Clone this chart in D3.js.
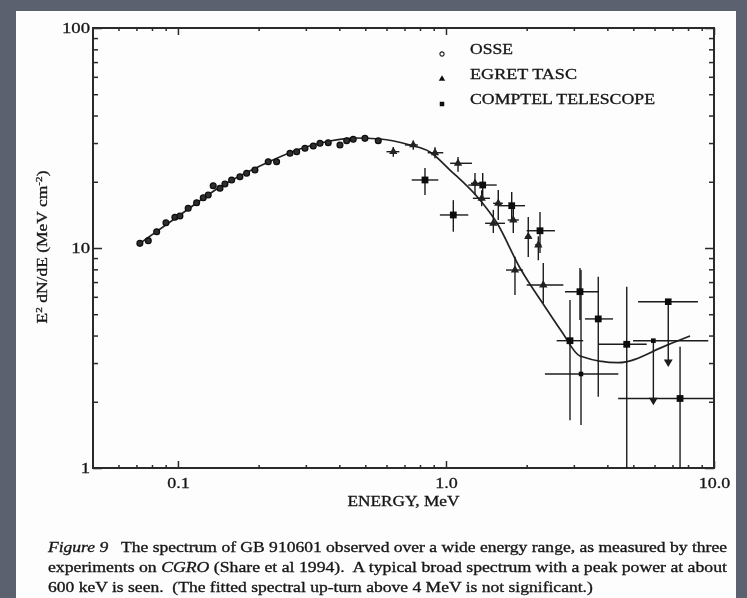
<!DOCTYPE html>
<html>
<head>
<meta charset="utf-8">
<script src="https://cdn.jsdelivr.net/npm/d3@7"></script>
<style>
body { margin: 0; background: #5c6170; }
svg { display: block; }
text { font-family: "Liberation Serif", "Times New Roman", serif; fill: #151515; stroke: #151515; stroke-width: 0.3; }
</style>
</head>
<body>
<svg id="chart" width="747" height="598"></svg>
<script>
// OSSE (open circles), energy in MeV, E^2 dN/dE in MeV cm^-2
let osseE = [0.0721, 0.0775, 0.0833, 0.0902, 0.0974, 0.1017, 0.1092, 0.1174, 0.1243, 0.1297,
    0.1354, 0.1435, 0.1497, 0.1586, 0.1703, 0.1804, 0.1937, 0.2172, 0.2334, 0.2618,
    0.2773, 0.2978, 0.3198, 0.3388, 0.3637, 0.4022, 0.4260, 0.4508, 0.4985, 0.5590];
let osseF = [10.5, 10.8, 11.86, 13.03, 13.79, 13.98, 15.15, 16.07, 16.93, 17.42,
    19.19, 18.68, 19.54, 20.38, 21.09, 21.86, 22.63, 24.68, 24.68, 26.94,
    27.40, 28.39, 29.08, 29.92, 30.10, 29.39, 30.73, 31.19, 31.51, 30.73];

// EGRET TASC (triangles)
let tascE = [0.636, 0.755, 0.910, 1.109, 1.283, 1.359, 1.502, 1.567, 1.783, 1.809, 2.028, 2.211, 2.307];
let tascF = [27.4, 29.4, 27.1, 24.27, 19.68, 16.82, 12.95, 15.97, 13.40, 7.94, 11.26, 10.32, 6.79];
let tascELo = [0.60, 0.703, 0.855, 1.036, 1.24, 1.26, 1.40, 1.50, 1.70, 1.675, 1.98, 2.15, 2.0];
let tascEHi = [0.67, 0.786, 0.977, 1.25, 1.34, 1.46, 1.66, 1.63, 1.87, 1.938, 2.08, 2.27, 2.74];
let tascFLo = [26.0, 28.0, 25.6, 22.2, 17.4, 15.5, 11.7, 13.4, 11.7, 6.11, 9.10, 8.8, 5.62];
let tascFHi = [28.8, 30.8, 28.7, 25.9, 21.9, 18.3, 14.9, 18.35, 15.4, 9.13, 13.83, 11.3, 8.55];

// COMPTEL TELESCOPE (filled squares)
let compE = [0.835, 1.065, 1.371, 1.759, 2.243, 3.162, 3.70, 2.902, 3.19, 4.725, 7.47];
let compF = [20.38, 14.13, 19.33, 15.57, 11.98, 6.33, 4.76, 3.79, 2.675, 3.65, 2.07];
let compELo = [0.745, 0.949, 1.211, 1.563, 2.0, 2.78, 3.30, 2.588, 2.34, 3.70, 4.39];
let compEHi = [0.936, 1.211, 1.546, 1.972, 2.551, 3.70, 4.20, 3.25, 4.395, 5.61, 9.91];
let compFLo = [17.4, 11.86, 17.05, 13.4, 9.49, 4.71, 2.11, 1.65, 1.57, 1, 1];
let compFHi = [23.1, 16.5, 21.9, 17.97, 14.57, 8.11, 7.40, 5.80, 7.94, 6.67, 3.56];

// COMPTEL upper limits (arrows)
let limE = [5.94, 6.75];
let limF = [3.79, 5.70];
let limTo = [1.97, 2.94];
let limELo = [4.99, 5.21];
let limEHi = [9.52, 8.71];

// fitted spectrum
let fitE = [0.0721, 0.1017, 0.1435, 0.2023, 0.2851, 0.369, 0.4575, 0.5672, 0.734, 0.8716,
    1.035, 1.339, 1.55, 1.889, 2.341, 2.709, 3.162, 4.384, 6.68, 8.14];
let fitF = [10.5, 14.13, 18.94, 23.59, 28.18, 30.64, 31.62, 31.30, 29.39, 27.32,
    22.62, 16.53, 12.99, 8.11, 5.41, 4.15, 3.23, 3.01, 3.62, 3.98];

let xMinor = [0.06, 0.07, 0.08, 0.09, 0.2, 0.3, 0.4, 0.5, 0.6, 0.7, 0.8, 0.9, 2, 3, 4, 5, 6, 7, 8, 9];
let xMajor = [0.1, 1, 10];
let xLabels = ["0.1", "1.0", "10.0"];
let yMinor = [2, 3, 4, 5, 6, 7, 8, 9, 20, 30, 40, 50, 60, 70, 80, 90];
let yMajor = [1, 10, 100];
let yLabels = ["1", "10", "100"];

let legendNames = ["OSSE", "EGRET TASC", "COMPTEL TELESCOPE"];
let legendWidths = [43, 107, 185];

let captionLines = [
    [["Figure 9", true], ["   The spectrum of GB 910601 observed over a wide energy range, as measured by three", false]],
    [["experiments on ", false], ["CGRO", true], [" (Share et al 1994).  A typical broad spectrum with a peak power at about", false]],
    [["600 keV is seen.  (The fitted spectral up-turn above 4 MeV is not significant.)", false]]
];

let svg = d3.select("#chart");

svg.append("defs").append("filter")
    .attr("id", "scan")
    .append("feGaussianBlur")
    .attr("stdDeviation", 0.5);

svg.append("rect")
    .attr("x", 16).attr("y", 11)
    .attr("width", 720).attr("height", 600)
    .attr("fill", "#fdfdfd");

let g = svg.append("g").attr("filter", "url(#scan)");

let x = d3.scaleLog().domain([0.0482, 10]).range([93, 714]);
let y = d3.scaleLog().domain([1, 100]).range([468, 28]);

function widen(sel, k) {
    sel.each(function () {
        let w = this.getComputedTextLength();
        d3.select(this).attr("textLength", w * k).attr("lengthAdjust", "spacingAndGlyphs");
    });
}

function styleAxis(a) {
    a.select(".domain").remove();
    a.selectAll("line").attr("stroke", "#2a2a2a").attr("stroke-width", 1.5);
    a.selectAll("text").attr("font-size", 15).attr("fill", "#151515")
        .attr("font-family", "Liberation Serif, serif");
}

// bottom
let bx1 = g.append("g").attr("transform", "translate(0,468)")
    .call(d3.axisBottom(x).tickValues(xMinor).tickSize(-3).tickFormat(""));
styleAxis(bx1);
let bx2 = g.append("g").attr("transform", "translate(0,468)")
    .call(d3.axisBottom(x).tickValues(xMajor).tickSize(-7).tickPadding(9)
        .tickFormat((d, i) => xLabels[i]));
styleAxis(bx2);
widen(bx2.selectAll("text"), 1.2);

// top
let tx1 = g.append("g").attr("transform", "translate(0,28)")
    .call(d3.axisTop(x).tickValues(xMinor).tickSize(-3).tickFormat(""));
styleAxis(tx1);
let tx2 = g.append("g").attr("transform", "translate(0,28)")
    .call(d3.axisTop(x).tickValues(xMajor).tickSize(-7).tickFormat(""));
styleAxis(tx2);

// left
let ly1 = g.append("g").attr("transform", "translate(93,0)")
    .call(d3.axisLeft(y).tickValues(yMinor).tickSize(-5).tickFormat(""));
styleAxis(ly1);
let ly2 = g.append("g").attr("transform", "translate(93,0)")
    .call(d3.axisLeft(y).tickValues(yMajor).tickSize(-9).tickPadding(3)
        .tickFormat((d, i) => yLabels[i]));
styleAxis(ly2);
widen(ly2.selectAll("text"), 1.25);

// right
let ry1 = g.append("g").attr("transform", "translate(714,0)")
    .call(d3.axisRight(y).tickValues(yMinor).tickSize(-5).tickFormat(""));
styleAxis(ry1);
let ry2 = g.append("g").attr("transform", "translate(714,0)")
    .call(d3.axisRight(y).tickValues(yMajor).tickSize(-9).tickFormat(""));
styleAxis(ry2);

// frame
g.append("rect")
    .attr("x", x.range()[0]).attr("y", y.range()[1])
    .attr("width", x.range()[1] - x.range()[0])
    .attr("height", y.range()[0] - y.range()[1])
    .attr("fill", "none").attr("stroke", "#2a2a2a").attr("stroke-width", 2);

// fitted curve
let fit = fitE.map((e, i) => ({e: e, f: fitF[i]}));
g.append("path")
    .datum(fit)
    .attr("fill", "none")
    .attr("stroke", "#222")
    .attr("stroke-width", 1.7)
    .attr("d", d3.line().x((d) => x(d.e)).y((d) => y(d.f)).curve(d3.curveMonotoneX));

function errorBars(E, F, ELo, EHi, FLo, FHi) {
    let eg = g.append("g").attr("stroke", "#1a1a1a").attr("stroke-width", 1.4);
    E.forEach((e, i) => {
        eg.append("line")
            .attr("x1", x(ELo[i])).attr("x2", x(EHi[i]))
            .attr("y1", y(F[i])).attr("y2", y(F[i]));
        eg.append("line")
            .attr("x1", x(e)).attr("x2", x(e))
            .attr("y1", y(FLo[i])).attr("y2", y(FHi[i]));
    });
}

errorBars(tascE, tascF, tascELo, tascEHi, tascFLo, tascFHi);
errorBars(compE, compF, compELo, compEHi, compFLo, compFHi);

// upper limits
let lg = g.append("g").attr("stroke", "#1a1a1a").attr("stroke-width", 1.4);
limE.forEach((e, i) => {
    lg.append("line")
        .attr("x1", x(limELo[i])).attr("x2", x(limEHi[i]))
        .attr("y1", y(limF[i])).attr("y2", y(limF[i]));
    lg.append("line")
        .attr("x1", x(e)).attr("x2", x(e))
        .attr("y1", y(limF[i])).attr("y2", y(limTo[i]) - 4);
    lg.append("path")
        .attr("d", d3.symbol().type(d3.symbolTriangle).size(34)())
        .attr("transform", "translate(" + x(e) + "," + (y(limTo[i]) - 3) + ") rotate(180)")
        .attr("fill", "#1a1a1a").attr("stroke", "none");
});
g.selectAll(".limdot")
    .data(limE)
    .enter().append("path")
    .attr("class", "limdot")
    .attr("d", (d, i) => d3.symbol().type(d3.symbolSquare).size(i === 0 ? 22 : 44)())
    .attr("transform", (d, i) => "translate(" + x(d) + "," + y(limF[i]) + ")")
    .attr("fill", "#111");

// OSSE points
g.selectAll(".osse")
    .data(osseE)
    .enter().append("circle")
    .attr("class", "osse")
    .attr("cx", (d) => x(d))
    .attr("cy", (d, i) => y(osseF[i]))
    .attr("r", 2.9)
    .attr("fill", "#2e2e2e")
    .attr("stroke", "#111")
    .attr("stroke-width", 1.3);

// TASC points
g.selectAll(".tasc")
    .data(tascE)
    .enter().append("path")
    .attr("class", "tasc")
    .attr("d", d3.symbol().type(d3.symbolTriangle).size(30)())
    .attr("transform", (d, i) => "translate(" + x(d) + "," + y(tascF[i]) + ")")
    .attr("fill", "#222");

// COMPTEL points
g.selectAll(".comp")
    .data(compE)
    .enter().append("path")
    .attr("class", "comp")
    .attr("d", (d, i) => d3.symbol().type(d3.symbolSquare).size(i === 8 ? 20 : 46)())
    .attr("transform", (d, i) => "translate(" + x(d) + "," + y(compF[i]) + ")")
    .attr("fill", "#0e0e0e");

// legend
let legend = g.append("g");
let legendSymbols = [
    d3.symbol().type(d3.symbolCircle).size(14)(),
    d3.symbol().type(d3.symbolTriangle).size(18)(),
    d3.symbol().type(d3.symbolSquare).size(20)()
];
legendNames.forEach((name, i) => {
    let ly = 49 + i * 25;
    legend.append("path")
        .attr("d", legendSymbols[i])
        .attr("transform", "translate(442," + (ly + 5) + ")")
        .attr("fill", i === 0 ? "none" : "#111")
        .attr("stroke", i === 0 ? "#222" : "none")
        .attr("stroke-width", 1.1);
    legend.append("text")
        .attr("x", 470).attr("y", ly)
        .attr("dy", "0.35em")
        .attr("font-size", 14.5)
        .attr("textLength", legendWidths[i])
        .attr("lengthAdjust", "spacingAndGlyphs")
        .text(name);
});

// axis titles
g.append("text")
    .attr("x", (x.range()[0] + x.range()[1]) / 2)
    .attr("y", 506)
    .attr("text-anchor", "middle")
    .attr("font-size", 14.5)
    .attr("textLength", 112)
    .attr("lengthAdjust", "spacingAndGlyphs")
    .text("ENERGY, MeV");

let yTitle = g.append("text")
    .attr("transform", "translate(47,247) rotate(-90)")
    .attr("text-anchor", "middle")
    .attr("font-size", 14)
    .attr("textLength", 153)
    .attr("lengthAdjust", "spacingAndGlyphs");
yTitle.append("tspan").text("E");
yTitle.append("tspan").attr("dy", -5).attr("font-size", 9).text("2");
yTitle.append("tspan").attr("dy", 5).text(" dN/dE (MeV cm");
yTitle.append("tspan").attr("dy", -5).attr("font-size", 9).text("-2");
yTitle.append("tspan").attr("dy", 5).text(")");

// caption
let cap = g.append("g");
let capK = 1;
captionLines.forEach((parts, i) => {
    let t = cap.append("text")
        .attr("x", 48)
        .attr("y", 552 + i * 20)
        .attr("font-size", 14)
        .attr("xml:space", "preserve");
    parts.forEach((p) => {
        t.append("tspan").attr("font-style", p[1] ? "italic" : "normal").text(p[0]);
    });
    let w = t.node().getComputedTextLength();
    if (i === 0) capK = 679 / w;
    let target = i < 2 ? 679 : w * capK;
    t.attr("textLength", target).attr("lengthAdjust", "spacingAndGlyphs");
});
</script>
</body>
</html>
